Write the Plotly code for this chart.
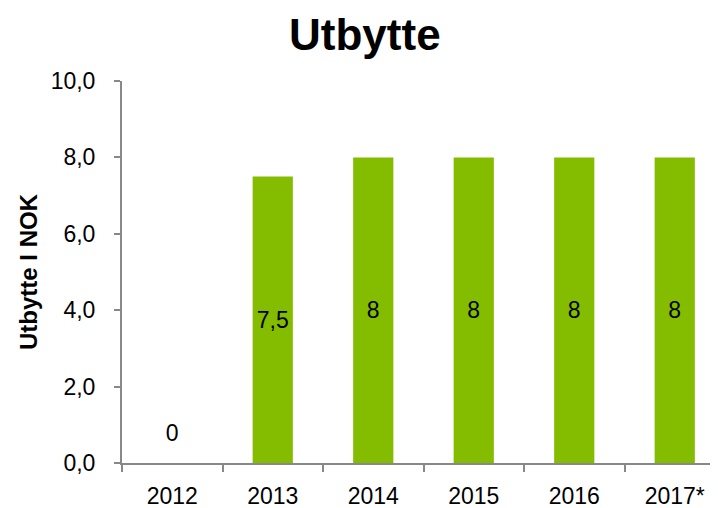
import plotly.graph_objects as go

years = ["2012", "2013", "2014", "2015", "2016", "2017*"]
dividends = [0, 7.5, 8, 8, 8, 8]
label_texts = ["0", "7,5", "8", "8", "8", "8"]
y_tick_vals = [0, 2, 4, 6, 8, 10]
y_tick_text = ["0,0", "2,0", "4,0", "6,0", "8,0", "10,0"]

FONT = "Liberation Sans, Arial, sans-serif"
GREEN = "#84BC00"
AXIS = "#888888"

bar_text = [t if v > 0 else "" for t, v in zip(label_texts, dividends)]
zero_text = [t if v == 0 else "" for t, v in zip(label_texts, dividends)]

fig = go.Figure()
fig.add_trace(go.Bar(
    x=years, y=dividends, width=0.4,
    marker=dict(color=GREEN, line=dict(width=0)),
    text=bar_text, textposition="inside", insidetextanchor="middle",
    textfont=dict(family=FONT, size=23, color="black"),
    textangle=0, hoverinfo="skip",
))
fig.add_trace(go.Scatter(
    x=years, y=dividends, mode="markers+text", text=zero_text,
    textposition="top center",
    marker=dict(size=24, color="rgba(0,0,0,0)"),
    textfont=dict(family=FONT, size=23, color="black"),
    hoverinfo="skip", cliponaxis=False,
))

fig.update_layout(
    width=718, height=508,
    margin=dict(l=114, r=0, t=73, b=53),
    paper_bgcolor="white", plot_bgcolor="white",
    showlegend=False,
    title=dict(text="<b>Utbytte</b>", x=0.497, xanchor="center", y=1 - 27 / 508, yanchor="middle",
               font=dict(family=FONT, size=44, color="black")),
    bargap=0.6,
)
fig.update_xaxes(
    type="category",
    range=[-0.5, 5.51], showline=True, linecolor=AXIS, linewidth=2,
    ticks="outside", tickson="boundaries", ticklen=7, tickwidth=2, tickcolor=AXIS,
    tickfont=dict(family=FONT, size=23, color="black"), showgrid=False,
    ticklabelstandoff=11,
    automargin=False, fixedrange=True,
)
fig.update_yaxes(
    range=[0, 10], tickvals=y_tick_vals, ticktext=y_tick_text,
    showline=True, linecolor=AXIS, linewidth=2,
    ticks="outside", ticklen=6, tickwidth=2, tickcolor=AXIS,
    tickfont=dict(family=FONT, size=23, color="black"), showgrid=False, zeroline=False,
    ticklabelstandoff=14,
    title=dict(text="<b>Utbytte I NOK</b>", font=dict(family=FONT, size=24, color="black"), standoff=6),
    automargin=False, fixedrange=True,
)

fig.write_html("out.html", config={"displayModeBar": False})
